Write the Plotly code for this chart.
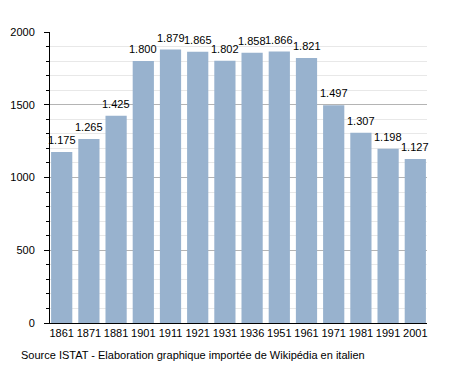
import plotly.graph_objects as go

years = ["1861", "1871", "1881", "1901", "1911", "1921", "1931", "1936", "1951", "1961", "1971", "1981", "1991", "2001"]
population = [1175, 1265, 1425, 1800, 1879, 1865, 1802, 1858, 1866, 1821, 1497, 1307, 1198, 1127]
y_ticks = [0, 500, 1000, 1500, 2000]
source_text = "Source ISTAT - Elaboration graphique importée de Wikipédia en italien"

FONT = "Liberation Sans, Arial"
gap = 0.22

fig = go.Figure()
fig.add_trace(go.Bar(
    x=years, y=population,
    marker=dict(color="#98b2ce", line=dict(width=0)),
    hoverinfo="skip",
))

labels = [f"{v:,}".replace(",", ".") for v in population]
annotations = [
    dict(x=i, y=v, xref="x", yref="y", text=lab, showarrow=False,
         xanchor="center", yanchor="bottom", yshift=4,
         font=dict(family=FONT, size=11, color="black"))
    for i, (v, lab) in enumerate(zip(population, labels))
]
annotations.append(dict(
    text=source_text, xref="paper", yref="paper", x=0, y=0,
    xanchor="left", yanchor="middle", showarrow=False,
    font=dict(family=FONT, size=11, color="black"), xshift=-31, yshift=-32,
))

fig.update_layout(
    width=447, height=365,
    margin=dict(l=42, r=28, t=24, b=50),
    paper_bgcolor="white", plot_bgcolor="white",
    bargap=gap,
    showlegend=False,
    font=dict(family=FONT, size=11, color="black"),
    xaxis=dict(
        type="category", showline=True, linecolor="black", linewidth=1,
        range=[-0.5 + gap / 2 - 0.04, len(years) - 0.5 - gap / 2 + 0.04],
        ticks="", showgrid=False, tickfont=dict(size=11), tickangle=0,
        automargin=False,
    ),
    yaxis=dict(
        range=[0, 2000], tickvals=y_ticks, showline=True, linecolor="black", linewidth=1,
        ticks="outside", ticklen=5, tickcolor="black", tickfont=dict(size=11),
        ticklabelstandoff=7, automargin=False,
        showgrid=True, gridcolor="#b4b4b4", gridwidth=1, zeroline=False,
        minor=dict(dtick=100, showgrid=True, gridcolor="#e8e8e8", ticks="outside",
                   ticklen=3, tickcolor="black"),
    ),
    annotations=annotations,
)

fig.write_html("out.html")
